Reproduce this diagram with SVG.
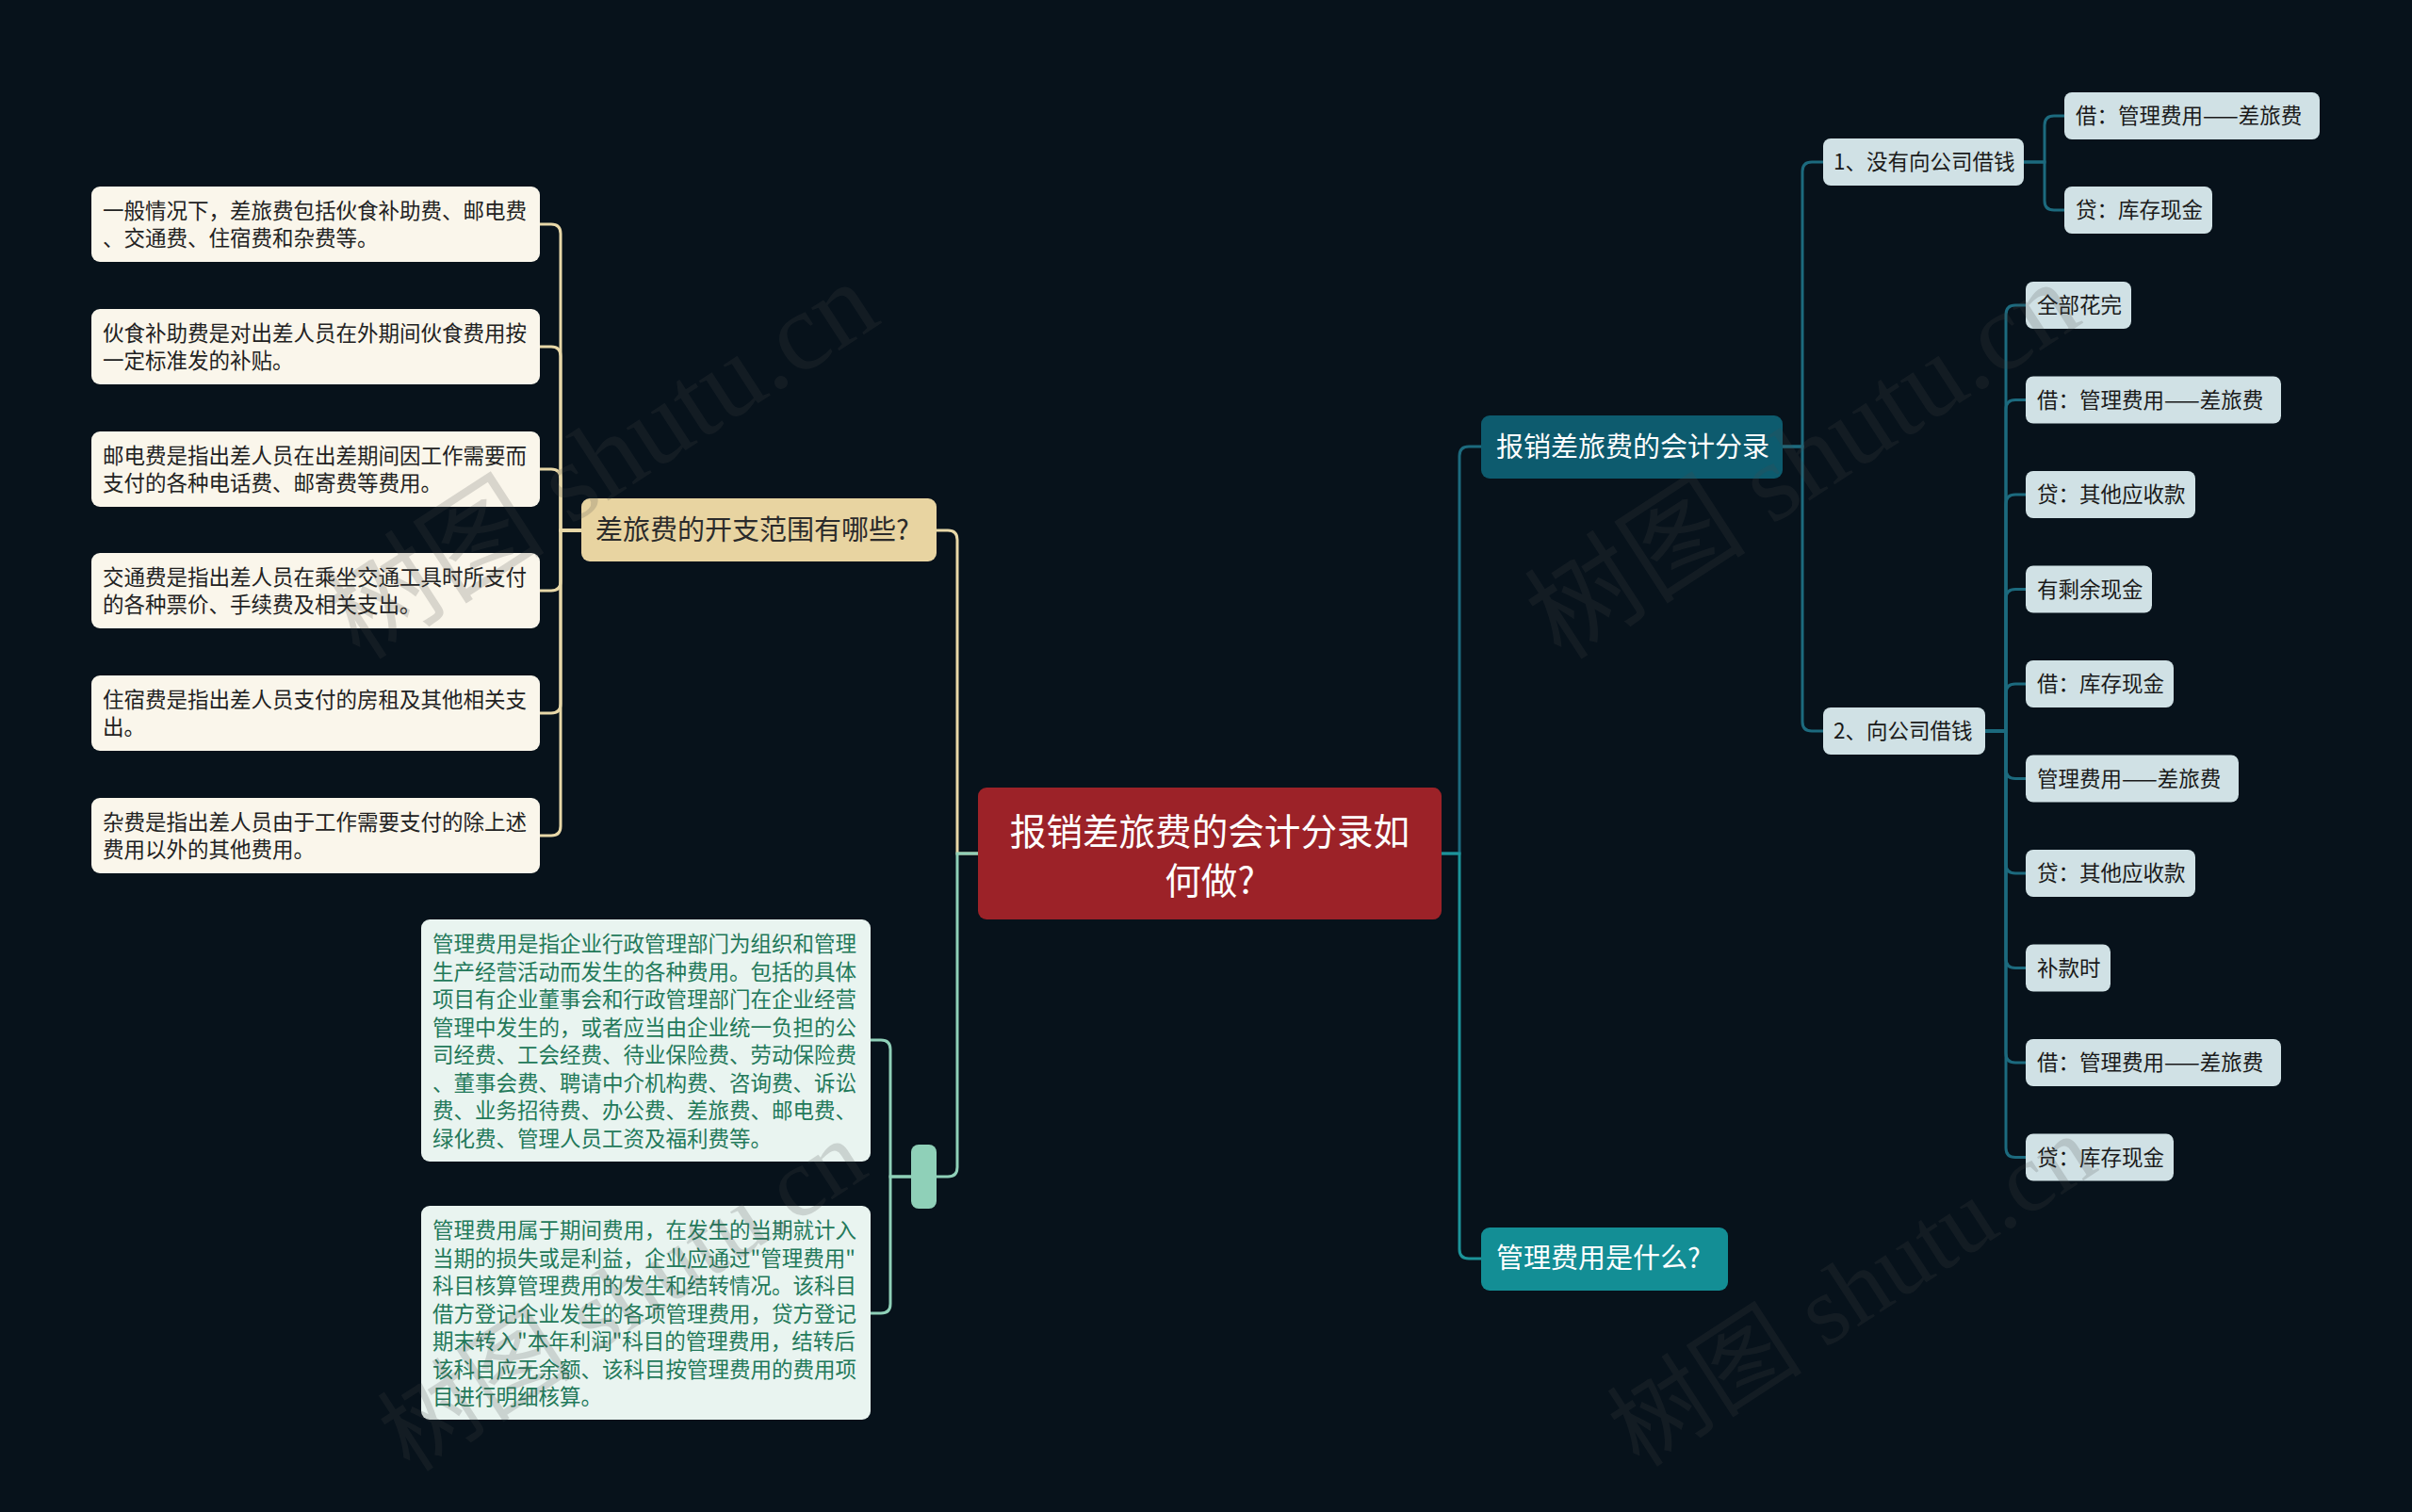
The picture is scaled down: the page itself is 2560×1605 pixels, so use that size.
<svg xmlns="http://www.w3.org/2000/svg" width="2560" height="1605" viewBox="0 0 2560 1605">
<style>
text{font-family:"Noto Sans CJK SC","Noto Sans",sans-serif;}
.t{font-size:22.5px;}
.cream rect{fill:#faf6eb;}
.cream text{fill:#222;}
.mint rect{fill:#e9f4f0;}
.mint text{fill:#23795a;}
.leaf rect{fill:#d0e1e5;}
.leaf text{fill:#1a1a1a;font-size:22.5px;}
.c{fill:none;stroke-width:3;}
.cy{stroke:#e8d8a8;}
.cm{stroke:#8fd0b8;}
.cd{stroke:#1c6a7e;}
.ct{stroke:#1c949a;}
.wm{font-family:"Liberation Serif","Noto Sans CJK SC",serif;font-size:118px;fill:#4a4a4a;opacity:0.19;}
.wm2{font-size:104px;}
</style>
<rect width="2560" height="1605" fill="#07121b"/>

<g id="connectors">
<path class="c cy" d="M617,563 H595 V248 Q595,238 585,238 H573"/>
<path class="c cy" d="M617,563 H595 V378 Q595,368 585,368 H573"/>
<path class="c cy" d="M617,563 H595 V508 Q595,498 585,498 H573"/>
<path class="c cy" d="M617,563 H595 V617 Q595,627 585,627 H573"/>
<path class="c cy" d="M617,563 H595 V747 Q595,757 585,757 H573"/>
<path class="c cy" d="M617,563 H595 V877 Q595,887 585,887 H573"/>
<path class="c cy" d="M1038,906 H1016 V573 Q1016,563 1006,563 H994"/>
<path class="c cm" d="M1038,906 H1016 V1239 Q1016,1249 1006,1249 H994"/>
<path class="c cm" d="M967,1249 H945 V1114 Q945,1104 935,1104 H924"/>
<path class="c cm" d="M967,1249 H945 V1384 Q945,1394 935,1394 H924"/>
<path class="c cd" d="M1530,906 H1549 V484 Q1549,474 1559,474 H1572"/>
<path class="c ct" d="M1530,906 H1549 V1326 Q1549,1336 1559,1336 H1572"/>
<path class="c cd" d="M1892,474 H1913 V182 Q1913,172 1923,172 H1935"/>
<path class="c cd" d="M1892,474 H1913 V766 Q1913,776 1923,776 H1935"/>
<path class="c cd" d="M2148,172 H2170 V133 Q2170,123 2180,123 H2191"/>
<path class="c cd" d="M2148,172 H2170 V213 Q2170,223 2180,223 H2191"/>
<path class="c cd" d="M2107,776 H2129 V334 Q2129,324 2139,324 H2150"/>
<path class="c cd" d="M2107,776 H2129 V434.5 Q2129,424.5 2139,424.5 H2150"/>
<path class="c cd" d="M2107,776 H2129 V535 Q2129,525 2139,525 H2150"/>
<path class="c cd" d="M2107,776 H2129 V635.5 Q2129,625.5 2139,625.5 H2150"/>
<path class="c cd" d="M2107,776 H2129 V736 Q2129,726 2139,726 H2150"/>
<path class="c cd" d="M2107,776 H2129 V816.5 Q2129,826.5 2139,826.5 H2150"/>
<path class="c cd" d="M2107,776 H2129 V917 Q2129,927 2139,927 H2150"/>
<path class="c cd" d="M2107,776 H2129 V1017.5 Q2129,1027.5 2139,1027.5 H2150"/>
<path class="c cd" d="M2107,776 H2129 V1118 Q2129,1128 2139,1128 H2150"/>
<path class="c cd" d="M2107,776 H2129 V1218.5 Q2129,1228.5 2139,1228.5 H2150"/>
</g>

<g id="root">
<rect x="1038" y="836" width="492" height="140" rx="9" fill="#9c2228"/>
<text x="1284" y="897" font-size="38.6" fill="#fff" text-anchor="middle">报销差旅费的会计分录如</text>
<text x="1284" y="949" font-size="38.6" fill="#fff" text-anchor="middle">何做?</text>
</g>

<g id="n-scope">
<rect x="617" y="529" width="377" height="67" rx="9" fill="#e8d4a1"/>
<text x="632" y="573" font-size="29" fill="#2b2b2b">差旅费的开支范围有哪些?</text>
</g>

<g id="n-scope-1" class="cream"><rect x="97" y="198" width="476" height="80" rx="9"/>
<text class="t" x="109" y="232">一般情况下，差旅费包括伙食补助费、邮电费</text><text class="t" x="109" y="261">、交通费、住宿费和杂费等。</text></g>
<g id="n-scope-2" class="cream"><rect x="97" y="328" width="476" height="80" rx="9"/>
<text class="t" x="109" y="362">伙食补助费是对出差人员在外期间伙食费用按</text><text class="t" x="109" y="391">一定标准发的补贴。</text></g>
<g id="n-scope-3" class="cream"><rect x="97" y="458" width="476" height="80" rx="9"/>
<text class="t" x="109" y="492">邮电费是指出差人员在出差期间因工作需要而</text><text class="t" x="109" y="521">支付的各种电话费、邮寄费等费用。</text></g>
<g id="n-scope-4" class="cream"><rect x="97" y="587" width="476" height="80" rx="9"/>
<text class="t" x="109" y="621">交通费是指出差人员在乘坐交通工具时所支付</text><text class="t" x="109" y="650">的各种票价、手续费及相关支出。</text></g>
<g id="n-scope-5" class="cream"><rect x="97" y="717" width="476" height="80" rx="9"/>
<text class="t" x="109" y="751">住宿费是指出差人员支付的房租及其他相关支</text><text class="t" x="109" y="780">出。</text></g>
<g id="n-scope-6" class="cream"><rect x="97" y="847" width="476" height="80" rx="9"/>
<text class="t" x="109" y="881">杂费是指出差人员由于工作需要支付的除上述</text><text class="t" x="109" y="910">费用以外的其他费用。</text></g>

<g id="n-mint">
<rect x="967" y="1215" width="27" height="68" rx="8" fill="#8fd0b8"/>
</g>
<g id="n-mint-1" class="mint"><rect x="447" y="976" width="477" height="257" rx="9"/>
<text class="t" x="459" y="1010">管理费用是指企业行政管理部门为组织和管理</text>
<text class="t" x="459" y="1039.5">生产经营活动而发生的各种费用。包括的具体</text>
<text class="t" x="459" y="1069">项目有企业董事会和行政管理部门在企业经营</text>
<text class="t" x="459" y="1098.5">管理中发生的，或者应当由企业统一负担的公</text>
<text class="t" x="459" y="1128">司经费、工会经费、待业保险费、劳动保险费</text>
<text class="t" x="459" y="1157.5">、董事会费、聘请中介机构费、咨询费、诉讼</text>
<text class="t" x="459" y="1187">费、业务招待费、办公费、差旅费、邮电费、</text>
<text class="t" x="459" y="1216.5">绿化费、管理人员工资及福利费等。</text>
</g>
<g id="n-mint-2" class="mint"><rect x="447" y="1280" width="477" height="227" rx="9"/>
<text class="t" x="459" y="1314">管理费用属于期间费用，在发生的当期就计入</text>
<text class="t" x="459" y="1343.5">当期的损失或是利益，企业应通过"管理费用"</text>
<text class="t" x="459" y="1373">科目核算管理费用的发生和结转情况。该科目</text>
<text class="t" x="459" y="1402.5">借方登记企业发生的各项管理费用，贷方登记</text>
<text class="t" x="459" y="1432">期末转入"本年利润"科目的管理费用，结转后</text>
<text class="t" x="459" y="1461.5">该科目应无余额、该科目按管理费用的费用项</text>
<text class="t" x="459" y="1491">目进行明细核算。</text>
</g>

<g id="n-entry">
<rect x="1572" y="441" width="320" height="67" rx="9" fill="#0d5b6e"/>
<text x="1588" y="485" font-size="29" fill="#fff">报销差旅费的会计分录</text>
</g>
<g id="n-what">
<rect x="1572" y="1303" width="262" height="67" rx="9" fill="#138e95"/>
<text x="1588" y="1346" font-size="29" fill="#fff">管理费用是什么?</text>
</g>

<g id="n-case1" class="leaf"><rect x="1935" y="147" width="213" height="50" rx="8"/><text x="1946" y="180">1、没有向公司借钱</text></g>
<g id="n-case2" class="leaf"><rect x="1935" y="751" width="172" height="50" rx="8"/><text x="1946" y="784">2、向公司借钱</text></g>

<g id="n-c1-1" class="leaf"><rect x="2191" y="98" width="271" height="50" rx="8"/><text x="2203" y="131">借：管理费用——差旅费</text></g>
<g id="n-c1-2" class="leaf"><rect x="2191" y="198" width="157" height="50" rx="8"/><text x="2203" y="231">贷：库存现金</text></g>

<g id="n-c2-1" class="leaf"><rect x="2150" y="299" width="112" height="50" rx="8"/><text x="2162" y="332">全部花完</text></g>
<g id="n-c2-2" class="leaf"><rect x="2150" y="399.5" width="271" height="50" rx="8"/><text x="2162" y="432.5">借：管理费用——差旅费</text></g>
<g id="n-c2-3" class="leaf"><rect x="2150" y="500" width="180" height="50" rx="8"/><text x="2162" y="533">贷：其他应收款</text></g>
<g id="n-c2-4" class="leaf"><rect x="2150" y="600.5" width="134" height="50" rx="8"/><text x="2162" y="633.5">有剩余现金</text></g>
<g id="n-c2-5" class="leaf"><rect x="2150" y="701" width="157" height="50" rx="8"/><text x="2162" y="734">借：库存现金</text></g>
<g id="n-c2-6" class="leaf"><rect x="2150" y="801.5" width="226" height="50" rx="8"/><text x="2162" y="834.5">管理费用——差旅费</text></g>
<g id="n-c2-7" class="leaf"><rect x="2150" y="902" width="180" height="50" rx="8"/><text x="2162" y="935">贷：其他应收款</text></g>
<g id="n-c2-8" class="leaf"><rect x="2150" y="1002.5" width="90" height="50" rx="8"/><text x="2162" y="1035.5">补款时</text></g>
<g id="n-c2-9" class="leaf"><rect x="2150" y="1103" width="271" height="50" rx="8"/><text x="2162" y="1136">借：管理费用——差旅费</text></g>
<g id="n-c2-10" class="leaf"><rect x="2150" y="1203.5" width="157" height="50" rx="8"/><text x="2162" y="1236.5">贷：库存现金</text></g>

<g id="watermarks">
<text class="wm" x="660" y="522" text-anchor="middle" transform="rotate(-33 660 522)">树图 shutu.cn</text>
<text class="wm" x="1935" y="522" text-anchor="middle" transform="rotate(-33 1935 522)">树图 shutu.cn</text>
<text class="wm wm2" x="680" y="1405" text-anchor="middle" transform="rotate(-33 680 1405)">树图 shutu.cn</text>
<text class="wm wm2" x="1985" y="1400" text-anchor="middle" transform="rotate(-33 1985 1400)">树图 shutu.cn</text>
</g>
</svg>
